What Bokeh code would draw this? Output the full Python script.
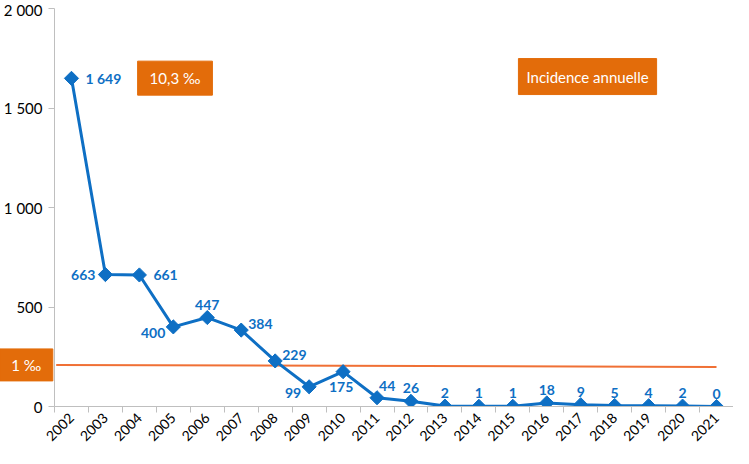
from bokeh.plotting import figure
from bokeh.models import Range1d, FixedTicker, Label, ColumnDataSource
from bokeh.core.properties import value
from bokeh.embed import file_html
from bokeh.resources import INLINE

years = list(range(2002, 2022))
cases = [1649, 663, 661, 400, 447, 384, 229, 99, 175, 44, 26, 2, 1, 1, 18, 9, 5, 4, 2, 0]
case_labels = ["1 649", "663", "661", "400", "447", "384", "229", "99", "175", "44",
               "26", "2", "1", "1", "18", "9", "5", "4", "2", "0"]
label_pos = ["r", "l", "r", "ld", "t", "ru", "ru", "ld", "b", "tr",
             "t", "t", "t", "t", "t", "t", "t", "t", "t", "t"]
ref_x = [2001.55, 2021]
ref_y = [209, 199]
ref_label = "1 ‰"
y_ticks = [0, 500, 1000, 1500, 2000]
y_tick_labels = ["0", "500", "1 000", "1 500", "2 000"]

BLUE = "#0E6FC4"
ORANGE_BOX = "#E36C0A"
ORANGE_LINE = "#F07035"
FONT = "Lato"

pos_style = {
    "r": (14, 0, "left", "middle"),
    "l": (-10, 0, "right", "middle"),
    "ld": (-8, 6, "right", "middle"),
    "t": (0, -8, "center", "bottom"),
    "ru": (7, -6, "left", "middle"),
    "b": (-2, 10, "center", "top"),
    "tr": (2, -7, "left", "bottom"),
}

p = figure(width=733, height=448, output_backend="svg", toolbar_location=None,
           x_range=Range1d(2001.5, 2021.5), y_range=Range1d(0, 2000),
           min_border_left=47, min_border_right=0, min_border_top=8, min_border_bottom=36)
p.outline_line_color = None
p.grid.grid_line_color = None
p.background_fill_color = "white"

p.line(ref_x, ref_y, line_color=ORANGE_LINE, line_width=2)

src = ColumnDataSource(dict(
    x=years, y=cases, t=case_labels,
    dx=[pos_style[k][0] for k in label_pos],
    dy=[pos_style[k][1] for k in label_pos],
    al=[pos_style[k][2] for k in label_pos],
    bl=[pos_style[k][3] for k in label_pos],
))
p.line("x", "y", source=src, line_color=BLUE, line_width=3)
p.scatter("x", "y", source=src, marker="square", angle=0.785398, size=10,
          fill_color=BLUE, line_color=BLUE)
p.text("x", "y", text="t", source=src, x_offset="dx", y_offset="dy",
       text_align="al", text_baseline="bl", text_color=BLUE,
       text_font=value(FONT), text_font_style="bold", text_font_size="14px")

# x axis
xa = p.xaxis[0]
xa.ticker = FixedTicker(ticks=years, minor_ticks=[y - 0.5 for y in years] + [2021.5])
xa.major_tick_line_color = None
xa.minor_tick_line_color = "#BFBFBF"
xa.minor_tick_out = 6
xa.minor_tick_in = 0
xa.axis_line_color = "#BFBFBF"
xa.major_label_orientation = 0.785
xa.major_label_text_font = FONT
xa.major_label_text_font_size = "14px"
xa.major_label_text_color = "#000000"
xa.major_label_standoff = 3

ya = p.yaxis[0]
ya.ticker = FixedTicker(ticks=y_ticks)
ya.major_label_overrides = {t: s for t, s in zip(y_ticks, y_tick_labels)}
ya.minor_tick_line_color = None
ya.major_tick_line_color = "#BFBFBF"
ya.major_tick_out = 6
ya.major_tick_in = 0
ya.axis_line_color = "#BFBFBF"
ya.major_label_text_font = FONT
ya.major_label_text_font_size = "15px"
ya.major_label_text_color = "#000000"
ya.major_label_standoff = 6

def box(x, y, text, pad_h, pad_v):
    lab = Label(x=x, y=y, text=text, text_align="center", text_baseline="middle",
                text_color="white", text_font=FONT, text_font_size="15px",
                background_fill_color=ORANGE_BOX, border_line_color=ORANGE_BOX,
                padding=dict(left=pad_h, right=pad_h, top=pad_v, bottom=pad_v), level="overlay")
    p.add_layout(lab)

box(2005.05, 1650, "10,3 ‰", 12, 8)
box(2017.2, 1658, "Incidence annuelle", 8, 9)

# "1 ‰" box sits left of the y axis (outside the frame): overlay-level glyphs are not clipped
box_x = 2000.67
p.rect([box_x], [ref_y[0]], width=53, height=32, width_units="screen", height_units="screen",
       fill_color=ORANGE_BOX, line_color=ORANGE_BOX, level="overlay")
p.text([box_x], [ref_y[0]], text=[ref_label], text_align="center", text_baseline="middle",
       text_color="white", text_font=value(FONT), text_font_size="15px", level="overlay")

open("out.html", "w").write(file_html(p, INLINE))
